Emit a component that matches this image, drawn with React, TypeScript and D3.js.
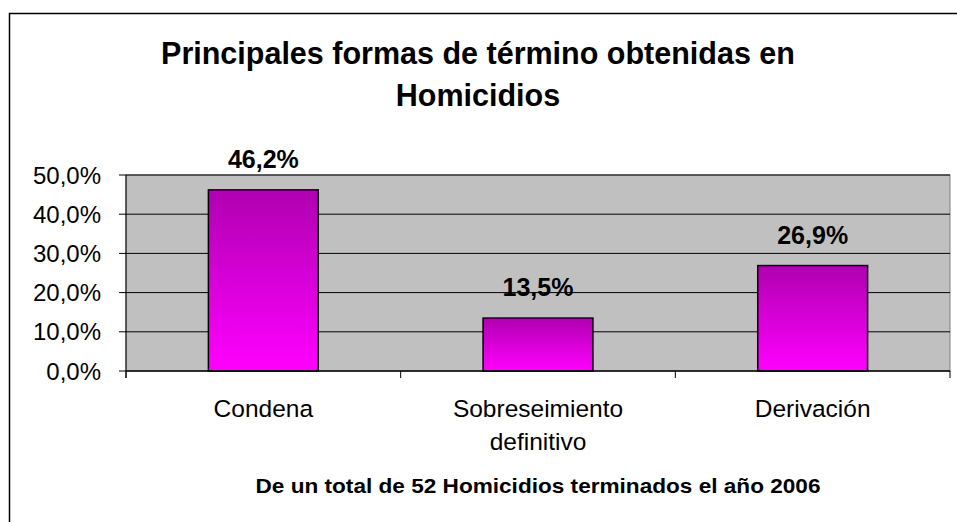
import React from 'react';
import * as d3 from 'd3';

const categories = ['Condena', 'Sobreseimiento\ndefinitivo', 'Derivación'];
const values = [46.2, 13.5, 26.9];
const valueLabels = ['46,2%', '13,5%', '26,9%'];
const yTicks = [0, 10, 20, 30, 40, 50];
const yTickLabels = ['0,0%', '10,0%', '20,0%', '30,0%', '40,0%', '50,0%'];

const titleLines = ['Principales formas de término obtenidas en', 'Homicidios'];
const footnote = 'De un total de 52 Homicidios terminados el año 2006';

const width = 957;
const height = 522;
const plot = { left: 126, top: 175, right: 950, bottom: 371 };
const font = '"Liberation Sans", Arial, sans-serif';

const App = () => {
  const x = d3.scaleBand<number>()
    .domain(d3.range(categories.length))
    .range([plot.left, plot.right])
    .paddingInner(0.6)
    .paddingOuter(0.3);
  const step = (plot.right - plot.left) / categories.length;
  const y = d3.scaleLinear().domain([0, 50]).range([plot.bottom, plot.top]);
  const mid = (i: number) => (x(i) ?? 0) + x.bandwidth() / 2;

  return (
    <svg
      width={width}
      height={height}
      style={{ position: 'absolute', left: 0, top: 0, background: '#fff' }}
      fontFamily={font}
    >
      <defs>
        <linearGradient id="barGrad" x1="0" y1="0" x2="0" y2="1">
          <stop offset="0%" stopColor="#B000B0" />
          <stop offset="100%" stopColor="#FF00FF" />
        </linearGradient>
      </defs>

      {/* chart frame, runs off the right and bottom edges */}
      <rect x={9.5} y={13.5} width={1000} height={600} fill="#fff" stroke="#000" strokeWidth={1.5} />

      {titleLines.map((t, i) => (
        <text key={t} x={478} y={64 + i * 42} textAnchor="middle" fontSize={30.5} fontWeight="bold">
          {t}
        </text>
      ))}

      {/* plot area */}
      <rect
        x={plot.left}
        y={plot.top}
        width={plot.right - plot.left}
        height={plot.bottom - plot.top}
        fill="#C0C0C0"
        stroke="#808080"
      />

      {yTicks.map((t, i) => (
        <g key={t}>
          <line x1={plot.left} x2={plot.right} y1={y(t)} y2={y(t)} stroke="#000" />
          <line x1={plot.left - 7} x2={plot.left} y1={y(t)} y2={y(t)} stroke="#000" />
          <text x={101} y={y(t)} dy="0.36em" textAnchor="end" fontSize={24}>
            {yTickLabels[i]}
          </text>
        </g>
      ))}

      {values.map((v, i) => (
        <g key={i}>
          <rect
            x={x(i)}
            y={y(v)}
            width={x.bandwidth()}
            height={y(0) - y(v)}
            fill="url(#barGrad)"
            stroke="#000"
            strokeWidth={1.5}
          />
          <text x={mid(i)} y={y(v) - 22} textAnchor="middle" fontSize={25} fontWeight="bold">
            {valueLabels[i]}
          </text>
        </g>
      ))}

      {/* axes */}
      <line x1={plot.left} x2={plot.left} y1={plot.top} y2={plot.bottom + 7} stroke="#000" />
      <line x1={plot.left} x2={plot.right} y1={plot.bottom} y2={plot.bottom} stroke="#000" />
      {d3.range(categories.length + 1).map(i => (
        <line
          key={i}
          x1={plot.left + i * step}
          x2={plot.left + i * step}
          y1={plot.bottom}
          y2={plot.bottom + 7}
          stroke="#000"
        />
      ))}

      {categories.map((c, i) =>
        c.split('\n').map((line, j) => (
          <text key={`${i}-${j}`} x={mid(i)} y={417 + j * 33} textAnchor="middle" fontSize={24.5}>
            {line}
          </text>
        ))
      )}

      <text
        x={(plot.left + plot.right) / 2}
        y={493}
        textAnchor="middle"
        fontSize={20}
        fontWeight="bold"
        textLength={565}
        lengthAdjust="spacingAndGlyphs"
      >
        {footnote}
      </text>
    </svg>
  );
};

export default App;
